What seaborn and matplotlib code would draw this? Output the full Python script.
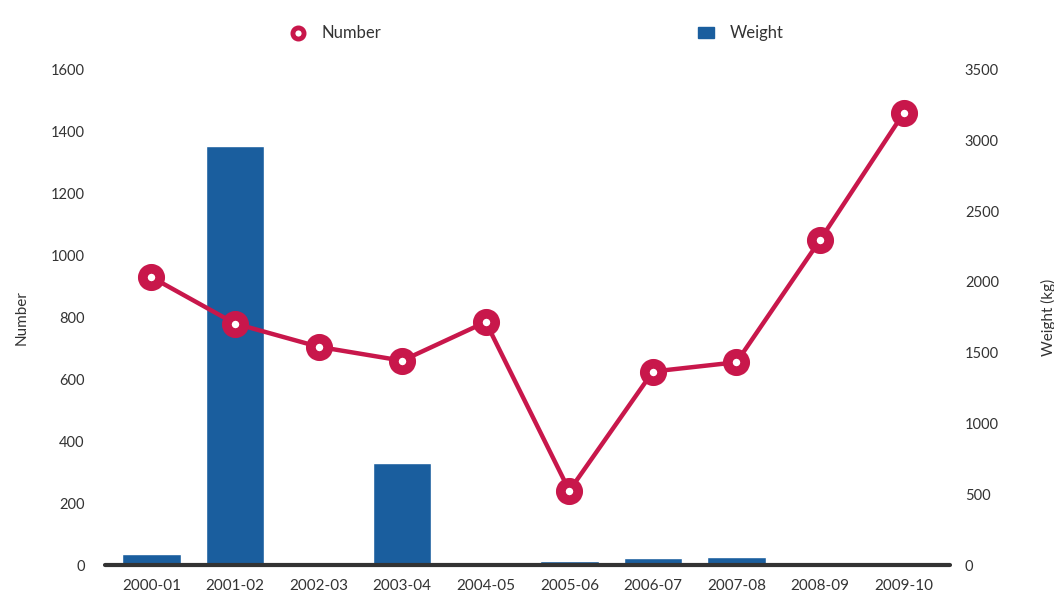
import matplotlib
matplotlib.use("Agg")
import matplotlib.pyplot as plt
import seaborn as sns
from matplotlib.lines import Line2D
from matplotlib.patches import Patch

seasons = ["2000-01", "2001-02", "2002-03", "2003-04", "2004-05",
           "2005-06", "2006-07", "2007-08", "2008-09", "2009-10"]
number = [930, 780, 705, 660, 785, 240, 625, 655, 1050, 1460]
weight = [75, 2960, 10, 720, 0, 25, 50, 55, 0, 8]

red = "#c8174b"
blue = "#1a5e9e"
txt = "#333333"

sns.set_style("white")
plt.rcParams["font.family"] = ["Lato", "DejaVu Sans"]

fig = plt.figure(figsize=(10.54, 5.96), dpi=100)
ax = fig.add_axes([0.104, 0.052, 0.793, 0.831])
ax2 = ax.twinx()

sns.barplot(x=seasons, y=weight, ax=ax2, color=blue, width=0.7, saturation=1)
sns.pointplot(x=seasons, y=number, ax=ax, color=red, linewidth=3.2,
              markersize=12.5, markeredgewidth=7, markerfacecolor="white",
              markeredgecolor=red)

ax.set_zorder(ax2.get_zorder() + 1)
ax.patch.set_visible(False)

ax.set_ylim(0, 1600)
ax2.set_ylim(0, 3500)
ax.set_xlim(-0.5, 9.5)
ax.set_yticks(range(0, 1601, 200))
ax2.set_yticks(range(0, 3501, 500))

for a in (ax, ax2):
    for s in ["top", "left", "right", "bottom"]:
        a.spines[s].set_visible(False)
ax.axhline(0, color="#333333", lw=3, xmin=-0.005, xmax=1.005, clip_on=False, zorder=5)

ax.tick_params(axis="y", length=0, pad=18, labelsize=10.5, labelcolor=txt)
ax2.tick_params(axis="y", length=0, pad=14, labelsize=10.5, labelcolor=txt)
ax.tick_params(axis="x", length=0, pad=10, labelsize=11, labelcolor=txt)
ax2.tick_params(axis="x", length=0)

ax.set_ylabel("Number", fontsize=11, color=txt, labelpad=16)
ax2.set_ylabel("Weight (kg)", fontsize=11, color=txt, labelpad=30)
ax.set_xlabel("")
ax2.set_xlabel("")

h1 = Line2D([], [], color=red, marker="o", linestyle="none", markersize=8,
            markeredgewidth=3.5, markerfacecolor="white", markeredgecolor=red)
h2 = Patch(facecolor=blue, edgecolor=blue)
fig.legend([h1, h2], ["Number", "Weight"], loc="center", ncol=2,
           bbox_to_anchor=(0.509, 0.944), frameon=False, fontsize=12,
           columnspacing=19, handlelength=1.0, handletextpad=0.9,
           labelcolor=txt)

fig.savefig("out.png", dpi=100)
